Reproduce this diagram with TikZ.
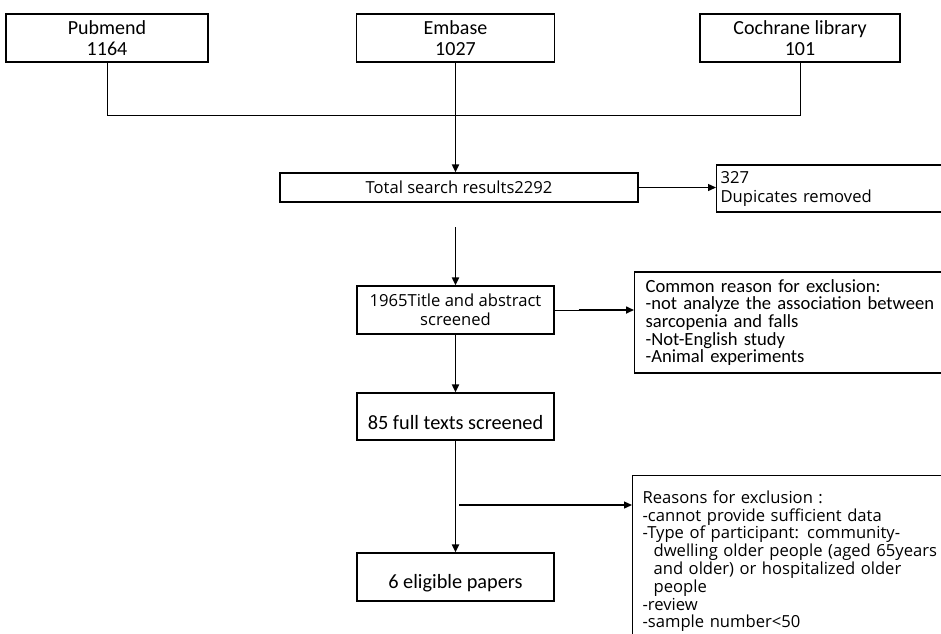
\documentclass[tikz,border=0pt]{standalone}
\usepackage{fontspec}
\setmainfont{Carlito}
\newfontfamily\uifont{Open Sans}
\usetikzlibrary{arrows.meta}
\DeclareRobustCommand\notefont{\fontsize{18.6}{17.6}\selectfont\spaceskip=0.18em\relax}

\begin{document}
\begin{tikzpicture}[x=1pt, y=-1pt,
    box/.style={draw, line width=1.2pt, align=center, inner sep=0pt},
    srcbox/.style={box, minimum height=48pt, font=\fontsize{20}{21}\selectfont},
    stagebox/.style={box, minimum width=197pt, font=\fontsize{20.3}{21}\selectfont},
    notebox/.style={draw, line width=1.2pt, align=left, text width=320pt, inner xsep=10pt},
    uitext/.style={font=\uifont\fontsize{16.6}{17.8}\selectfont},
    link/.style={line width=0.9pt},
    flow/.style={line width=1.8pt, -{Triangle[length=8pt,width=7pt]}},
    side/.style={line width=1.3pt, -{Triangle[length=8pt,width=7pt]}}]

  \useasboundingbox (0,0) rectangle (941,633);
  \clip (0,0) rectangle (941,633);

  % databases
  \node[srcbox, minimum width=202pt] (pub) at (107,38) {Pubmend\\1164};
  \node[srcbox, minimum width=198pt] (emb) at (455.5,38) {Embase\\1027};
  \node[srcbox, minimum width=200pt] (coch) at (800,38) {Cochrane library\\101};

  \node[box, uitext, minimum width=358pt, minimum height=29pt] (total) at (459,187.5) {Total search results2292};
  \node[notebox, anchor=west, text width=250pt, inner xsep=4pt, minimum height=47pt,
        font=\uifont\fontsize{16.6}{19}\selectfont] (dup) at (716,188.5) {327\\Dupicates removed};

  \node[box, minimum width=197pt, minimum height=48pt,
        font=\uifont\fontsize{16.6}{19}\selectfont] (screen) at (455.5,310) {1965Title and abstract\\screened};
  \node[notebox, anchor=west, inner xsep=11pt, text width=340pt, minimum height=101pt,
        font=\notefont] (common) at (634,322.5)
        {Common reason for exclusion:\\-not analyze the association between\\sarcopenia and falls\\-Not-English study\\-Animal experiments};

  \node[stagebox, minimum height=47pt, text height=28pt, text depth=3pt] (full) at (455.5,416.5) {85 full texts screened};
  \node[stagebox, minimum height=48pt, text height=25pt, text depth=3pt] (elig) at (455.5,577) {6 eligible papers};
  \node[notebox, uitext, anchor=north west, inner ysep=15pt] (reasons) at (632,475)
        {Reasons for exclusion :\\-cannot provide sufficient data\\-Type of participant: community-\\\hspace*{11pt}dwelling older people (aged 65years\\\hspace*{11pt}and older) or hospitalized older\\\hspace*{11pt}people\\-review\\-sample number<50};

  % connectors
  \coordinate (join) at (emb.south |- 0,115);
  \draw[link] (pub.south) |- (coch.south |- join) -- (coch.south);
  \draw[link] (emb.south) -- (join);
  \draw[flow] (join) -- (join |- total.north);
  \draw[side] (total.east) -- (total.east -| dup.west);

  \coordinate (gap) at (455.5,227);
  \draw[flow] (gap) -- (screen.north);
  \draw[link] (screen.east) -- ++(24,0) coordinate (stub1);
  \draw[side, line width=1.6pt] (stub1) -- (stub1 -| common.west);

  \draw[flow] (screen.south) -- (full.north);
  \draw[flow] (full.south) -- (elig.north);
  \coordinate (stub2) at (459,505);
  \draw[line width=2pt] (stub2) -- ++(21,0) coordinate (stub2e);
  \draw[side] (stub2e) -- (stub2e -| reasons.west);
\end{tikzpicture}
\end{document}
